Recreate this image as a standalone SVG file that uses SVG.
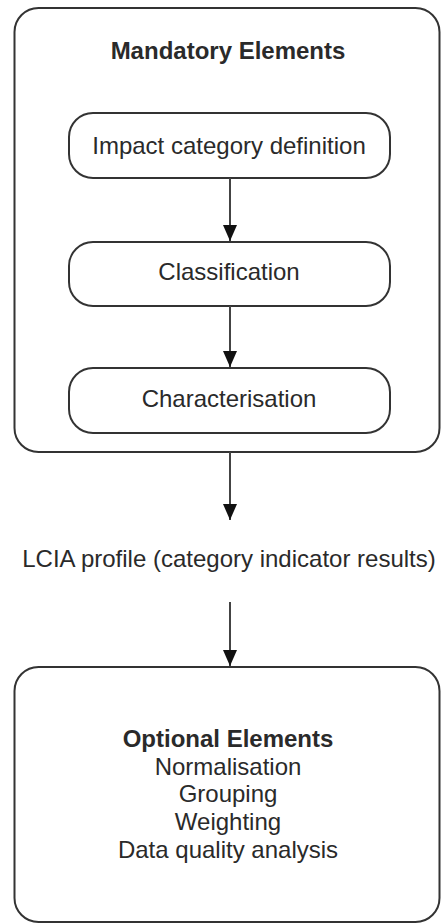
<svg xmlns="http://www.w3.org/2000/svg" width="441" height="924" viewBox="0 0 441 924">
<style>
.box{fill:#fff;stroke:#333;stroke-width:2}
.t{font-family:"Liberation Sans",Arial,sans-serif;font-size:24px;fill:#2a2a2a;text-anchor:middle}
.b{font-weight:bold}
.c{stroke:#444;stroke-width:2;fill:none}
</style>
<defs>
<marker id="ah" markerUnits="userSpaceOnUse" markerWidth="16" markerHeight="14" refX="16" refY="7" orient="auto" viewBox="0 0 16 14">
<path d="M0,0 L16,7 L0,14 Z" fill="#111"/>
</marker>
</defs>
<rect width="441" height="924" fill="#fff"/>
<g id="mandatory">
<rect class="box" x="14.5" y="8" width="425" height="444" rx="24"/>
<text class="t b" x="228" y="59">Mandatory Elements</text>
</g>
<g id="impact">
<rect class="box" x="69" y="113" width="321" height="65" rx="24"/>
<text class="t" x="229" y="154">Impact category definition</text>
</g>
<g id="classification">
<rect class="box" x="69" y="242" width="321" height="64" rx="24"/>
<text class="t" x="229" y="280">Classification</text>
</g>
<g id="characterisation">
<rect class="box" x="69" y="368" width="321" height="65" rx="24"/>
<text class="t" x="229" y="407">Characterisation</text>
</g>
<g id="lcia">
<text class="t" x="229" y="567">LCIA profile (category indicator results)</text>
</g>
<g id="optional">
<rect class="box" x="14.5" y="667" width="425" height="255" rx="24"/>
<text class="t b" x="228" y="747">Optional Elements</text>
<text class="t" x="228" y="775">Normalisation</text>
<text class="t" x="228" y="802">Grouping</text>
<text class="t" x="228" y="830">Weighting</text>
<text class="t" x="228" y="858">Data quality analysis</text>
</g>
<g id="connectors">
<line class="c" x1="230" y1="178" x2="230" y2="241" marker-end="url(#ah)"/>
<line class="c" x1="230" y1="306" x2="230" y2="367" marker-end="url(#ah)"/>
<line class="c" x1="230" y1="452" x2="230" y2="520" marker-end="url(#ah)"/>
<line class="c" x1="230" y1="602" x2="230" y2="666" marker-end="url(#ah)"/>
</g>
</svg>
